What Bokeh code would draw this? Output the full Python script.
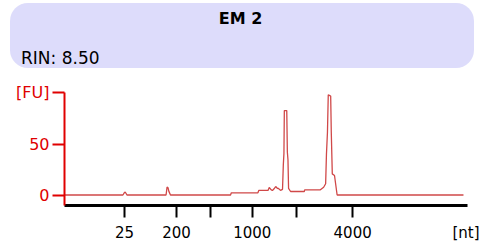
from bokeh.plotting import figure
from bokeh.layouts import column
from bokeh.models import Range1d, FixedTicker, Div
from bokeh.embed import file_html
from bokeh.resources import INLINE

# ---- data ----
sample_name = "EM 2"
rin_text = "RIN: 8.50"
x_unit_label = "[nt]"
# migration position (arbitrary units along the electropherogram) and fluorescence (FU)
position = [0.0, 14.5, 14.9, 15.1, 15.5, 25.2, 25.45, 25.7, 25.9, 26.3, 41.2, 41.4,
            48.0, 48.2, 50.5, 50.8, 51.3, 51.6, 52.0, 52.4, 52.8, 53.1, 53.6, 54.1,
            54.3, 54.45, 54.55, 55.15, 55.3, 55.45, 55.6, 56.1, 59.5, 59.6, 63.5,
            64.3, 64.8, 65.0, 65.25, 65.45, 66.05, 66.2, 66.45, 67.0, 67.65, 99.0]
fluorescence = [0.5, 0.5, 3.0, 3.2, 0.5, 0.5, 8.2, 7.5, 4.0, 0.5, 0.5, 2.6,
                2.6, 4.9, 4.9, 7.8, 5.5, 4.9, 6.5, 8.7, 7.0, 6.8, 5.0, 6.0,
                30.0, 40.8, 82.5, 82.5, 42.0, 35.0, 7.0, 3.9, 3.9, 5.5, 5.5,
                8.0, 11.4, 40.0, 61.5, 97.8, 96.5, 61.5, 21.0, 19.4, 0.5, 0.5]
ladder_pos = [14.9, 27.8, 36.2, 46.6, 57.6, 71.5]
ladder_labels = ["25", "200", "", "1000", "", "4000"]
fu_ticks = [0, 50, 100]
fu_labels = ["0", "50", "[FU]"]

FONT = "DejaVu Sans"
RED = "#e00000"
W = 493

# ---- header (rounded box with sample name and RIN) ----
header_html = (
    f'<div style="position:relative;width:{W}px;height:75px;font-family:\'{FONT}\';color:black;">'
    '<div style="position:absolute;left:10px;top:3px;width:464px;height:65px;'
    'background:#dddcfb;border-radius:18px;"></div>'
    '<div style="position:absolute;left:0px;top:11px;width:481px;text-align:center;'
    f'font-weight:bold;font-size:16px;line-height:16px;white-space:nowrap;">{sample_name}</div>'
    '<div style="position:absolute;left:21px;top:50.3px;font-size:17px;line-height:17px;'
    f'white-space:nowrap;">{rin_text}</div>'
    '</div>'
)
header = Div(text=header_html, width=W, height=75, margin=0)

# ---- electropherogram ----
p = figure(width=W, height=168, x_range=Range1d(0, 100), y_range=Range1d(-9.7, 100),
           output_backend="svg", toolbar_location=None,
           min_border_left=64, min_border_right=W - 467, min_border_top=17,
           min_border_bottom=38)
p.grid.visible = False
p.outline_line_color = None
p.line(position, fluorescence, line_color="#d04848", line_width=1.3)

xa = p.xaxis[0]
xa.ticker = FixedTicker(ticks=ladder_pos, minor_ticks=[])
xa.major_label_overrides = {t: l for t, l in zip(ladder_pos, ladder_labels)}
xa.axis_line_color = "black"
xa.axis_line_width = 3
xa.major_tick_line_color = "black"
xa.major_tick_line_width = 2
xa.major_tick_out = 12
xa.major_tick_in = 0
xa.minor_tick_line_color = None
xa.major_label_text_font = FONT
xa.major_label_text_font_size = "15px"
xa.major_label_text_color = "black"
xa.major_label_standoff = 8

ya = p.yaxis[0]
ya.ticker = FixedTicker(ticks=fu_ticks, minor_ticks=[])
ya.major_label_overrides = {t: l for t, l in zip(fu_ticks, fu_labels)}
ya.axis_line_color = RED
ya.axis_line_width = 2
ya.major_tick_line_color = RED
ya.major_tick_line_width = 2
ya.major_tick_out = 12
ya.major_tick_in = 0
ya.minor_tick_line_color = None
ya.major_label_text_font = FONT
ya.major_label_text_font_size = "16px"
ya.major_label_text_color = RED
ya.major_label_standoff = 3

# x unit label, level with the tick labels at the right end of the axis
nt_html = (
    f'<div style="position:relative;width:{W}px;height:20px;font-family:\'{FONT}\';">'
    '<div style="position:absolute;left:446px;width:40px;top:2.5px;text-align:center;'
    f'font-size:15px;line-height:15px;color:black;white-space:nowrap;">{x_unit_label}</div>'
    '</div>'
)
nt = Div(text=nt_html, width=W, height=20, margin=0,
         styles={"margin-top": "-20px", "position": "relative", "z-index": "2"})

layout = column(header, p, nt, spacing=0)

open("out.html", "w").write(file_html(layout, INLINE))
